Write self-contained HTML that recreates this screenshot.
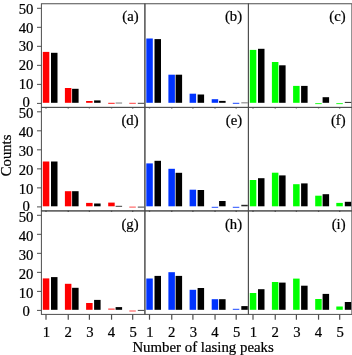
<!DOCTYPE html><html><head><meta charset="utf-8"><style>
html,body{margin:0;padding:0;background:#fff;}
svg{display:block;}
text{font-family:"Liberation Serif","Times New Roman",serif;font-size:14.7px;fill:#000;stroke:#000;stroke-width:0.22px;}
</style></head><body>
<svg width="352" height="355" viewBox="0 0 352 355">
<rect x="0" y="0" width="352" height="355" fill="#fff"/>
<rect x="42.80" y="51.90" width="6.50" height="50.90" fill="#ff0000"/>
<rect x="51.00" y="52.80" width="6.50" height="50.00" fill="#000"/>
<rect x="64.90" y="88.00" width="6.50" height="14.80" fill="#ff0000"/>
<rect x="72.10" y="88.80" width="6.50" height="14.00" fill="#000"/>
<rect x="86.10" y="101.00" width="6.50" height="1.80" fill="#ff0000"/>
<rect x="94.10" y="100.40" width="6.50" height="2.40" fill="#000"/>
<rect x="108.20" y="102.80" width="6.50" height="1.00" fill="#ff0000" fill-opacity="0.90"/>
<rect x="115.60" y="102.30" width="6.50" height="1.50" fill="#000" fill-opacity="0.35"/>
<rect x="129.30" y="102.80" width="6.50" height="1.00" fill="#ff0000" fill-opacity="0.75"/>
<rect x="137.80" y="102.80" width="6.50" height="1.00" fill="#000" fill-opacity="0.75"/>
<rect x="146.30" y="38.50" width="6.50" height="64.30" fill="#0033ff"/>
<rect x="154.50" y="39.10" width="6.50" height="63.70" fill="#000"/>
<rect x="168.40" y="74.70" width="6.50" height="28.10" fill="#0033ff"/>
<rect x="175.60" y="74.70" width="6.50" height="28.10" fill="#000"/>
<rect x="189.60" y="93.70" width="6.50" height="9.10" fill="#0033ff"/>
<rect x="197.60" y="94.50" width="6.50" height="8.30" fill="#000"/>
<rect x="211.70" y="99.20" width="6.50" height="3.60" fill="#0033ff"/>
<rect x="219.10" y="100.90" width="6.50" height="1.90" fill="#000"/>
<rect x="232.80" y="102.80" width="6.50" height="1.00" fill="#0033ff" fill-opacity="0.90"/>
<rect x="241.30" y="102.00" width="6.50" height="1.50" fill="#000" fill-opacity="0.35"/>
<rect x="249.80" y="49.90" width="6.50" height="52.90" fill="#00ff00"/>
<rect x="258.00" y="48.80" width="6.50" height="54.00" fill="#000"/>
<rect x="271.90" y="62.00" width="6.50" height="40.80" fill="#00ff00"/>
<rect x="279.10" y="65.30" width="6.50" height="37.50" fill="#000"/>
<rect x="293.10" y="85.90" width="6.50" height="16.90" fill="#00ff00"/>
<rect x="301.10" y="85.90" width="6.50" height="16.90" fill="#000"/>
<rect x="315.20" y="103.10" width="6.50" height="1.00" fill="#00ff00" fill-opacity="0.85"/>
<rect x="322.60" y="97.20" width="6.50" height="5.60" fill="#000"/>
<rect x="336.30" y="103.10" width="6.50" height="1.00" fill="#00ff00" fill-opacity="0.85"/>
<rect x="344.80" y="101.90" width="6.50" height="1.00" fill="#000" fill-opacity="0.85"/>
<rect x="42.80" y="161.50" width="6.50" height="44.80" fill="#ff0000"/>
<rect x="51.00" y="161.50" width="6.50" height="44.80" fill="#000"/>
<rect x="64.90" y="191.20" width="6.50" height="15.10" fill="#ff0000"/>
<rect x="72.10" y="191.20" width="6.50" height="15.10" fill="#000"/>
<rect x="86.10" y="202.90" width="6.50" height="3.40" fill="#ff0000"/>
<rect x="94.10" y="203.50" width="6.50" height="2.80" fill="#000"/>
<rect x="108.20" y="202.60" width="6.50" height="3.70" fill="#ff0000"/>
<rect x="115.60" y="205.80" width="6.50" height="1.00" fill="#000" fill-opacity="0.75"/>
<rect x="129.30" y="206.60" width="6.50" height="1.00" fill="#ff0000" fill-opacity="0.70"/>
<rect x="137.80" y="206.60" width="6.50" height="1.00" fill="#000" fill-opacity="0.75"/>
<rect x="146.30" y="163.40" width="6.50" height="42.90" fill="#0033ff"/>
<rect x="154.50" y="160.80" width="6.50" height="45.50" fill="#000"/>
<rect x="168.40" y="168.80" width="6.50" height="37.50" fill="#0033ff"/>
<rect x="175.60" y="172.80" width="6.50" height="33.50" fill="#000"/>
<rect x="189.60" y="189.70" width="6.50" height="16.60" fill="#0033ff"/>
<rect x="197.60" y="190.00" width="6.50" height="16.30" fill="#000"/>
<rect x="211.70" y="206.80" width="6.50" height="1.00" fill="#0033ff" fill-opacity="0.85"/>
<rect x="219.10" y="201.00" width="6.50" height="5.30" fill="#000"/>
<rect x="232.80" y="206.80" width="6.50" height="1.00" fill="#0033ff" fill-opacity="0.85"/>
<rect x="241.30" y="204.80" width="6.50" height="1.50" fill="#000" fill-opacity="0.85"/>
<rect x="249.80" y="180.00" width="6.50" height="26.30" fill="#00ff00"/>
<rect x="258.00" y="178.20" width="6.50" height="28.10" fill="#000"/>
<rect x="271.90" y="172.70" width="6.50" height="33.60" fill="#00ff00"/>
<rect x="279.10" y="175.40" width="6.50" height="30.90" fill="#000"/>
<rect x="293.10" y="184.20" width="6.50" height="22.10" fill="#00ff00"/>
<rect x="301.10" y="183.40" width="6.50" height="22.90" fill="#000"/>
<rect x="315.20" y="195.70" width="6.50" height="10.60" fill="#00ff00"/>
<rect x="322.60" y="194.20" width="6.50" height="12.10" fill="#000"/>
<rect x="336.30" y="202.90" width="6.50" height="3.40" fill="#00ff00"/>
<rect x="344.80" y="201.80" width="6.50" height="4.50" fill="#000"/>
<rect x="42.80" y="278.40" width="6.50" height="31.40" fill="#ff0000"/>
<rect x="51.00" y="277.10" width="6.50" height="32.70" fill="#000"/>
<rect x="64.90" y="283.80" width="6.50" height="26.00" fill="#ff0000"/>
<rect x="72.10" y="287.80" width="6.50" height="22.00" fill="#000"/>
<rect x="86.10" y="303.00" width="6.50" height="6.80" fill="#ff0000"/>
<rect x="94.10" y="299.90" width="6.50" height="9.90" fill="#000"/>
<rect x="108.20" y="308.60" width="6.50" height="1.00" fill="#ff0000" fill-opacity="0.90"/>
<rect x="115.60" y="307.10" width="6.50" height="2.70" fill="#000"/>
<rect x="129.30" y="310.40" width="6.50" height="1.20" fill="#ff0000" fill-opacity="0.60"/>
<rect x="137.80" y="309.90" width="6.50" height="1.00" fill="#000" fill-opacity="0.75"/>
<rect x="146.30" y="278.50" width="6.50" height="31.30" fill="#0033ff"/>
<rect x="154.50" y="275.90" width="6.50" height="33.90" fill="#000"/>
<rect x="168.40" y="272.20" width="6.50" height="37.60" fill="#0033ff"/>
<rect x="175.60" y="275.90" width="6.50" height="33.90" fill="#000"/>
<rect x="189.60" y="289.80" width="6.50" height="20.00" fill="#0033ff"/>
<rect x="197.60" y="288.00" width="6.50" height="21.80" fill="#000"/>
<rect x="211.70" y="299.20" width="6.50" height="10.60" fill="#0033ff"/>
<rect x="219.10" y="299.20" width="6.50" height="10.60" fill="#000"/>
<rect x="232.80" y="308.80" width="6.50" height="1.00" fill="#0033ff" fill-opacity="0.90"/>
<rect x="241.30" y="306.10" width="6.50" height="3.70" fill="#000"/>
<rect x="249.80" y="293.00" width="6.50" height="16.80" fill="#00ff00"/>
<rect x="258.00" y="289.20" width="6.50" height="20.60" fill="#000"/>
<rect x="271.90" y="282.00" width="6.50" height="27.80" fill="#00ff00"/>
<rect x="279.10" y="282.60" width="6.50" height="27.20" fill="#000"/>
<rect x="293.10" y="278.60" width="6.50" height="31.20" fill="#00ff00"/>
<rect x="301.10" y="285.70" width="6.50" height="24.10" fill="#000"/>
<rect x="315.20" y="299.00" width="6.50" height="10.80" fill="#00ff00"/>
<rect x="322.60" y="293.90" width="6.50" height="15.90" fill="#000"/>
<rect x="336.30" y="306.50" width="6.50" height="3.30" fill="#00ff00"/>
<rect x="344.80" y="302.00" width="6.50" height="7.80" fill="#000"/>
<rect x="41.40" y="3.75" width="103.50" height="103.65" fill="none" stroke="#4e4e4e" stroke-width="1"/>
<line x1="46.00" y1="107.10" x2="46.00" y2="108.40" stroke="#4e4e4e" stroke-width="1.3"/>
<line x1="68.25" y1="107.10" x2="68.25" y2="108.40" stroke="#4e4e4e" stroke-width="1.3"/>
<line x1="89.40" y1="107.10" x2="89.40" y2="108.40" stroke="#4e4e4e" stroke-width="1.3"/>
<line x1="111.55" y1="107.10" x2="111.55" y2="108.40" stroke="#4e4e4e" stroke-width="1.3"/>
<line x1="132.70" y1="107.10" x2="132.70" y2="108.40" stroke="#4e4e4e" stroke-width="1.3"/>
<rect x="144.90" y="3.75" width="103.50" height="103.65" fill="none" stroke="#4e4e4e" stroke-width="1"/>
<line x1="149.50" y1="107.10" x2="149.50" y2="108.40" stroke="#4e4e4e" stroke-width="1.3"/>
<line x1="171.75" y1="107.10" x2="171.75" y2="108.40" stroke="#4e4e4e" stroke-width="1.3"/>
<line x1="192.90" y1="107.10" x2="192.90" y2="108.40" stroke="#4e4e4e" stroke-width="1.3"/>
<line x1="215.05" y1="107.10" x2="215.05" y2="108.40" stroke="#4e4e4e" stroke-width="1.3"/>
<line x1="236.20" y1="107.10" x2="236.20" y2="108.40" stroke="#4e4e4e" stroke-width="1.3"/>
<rect x="248.40" y="3.75" width="103.50" height="103.65" fill="none" stroke="#4e4e4e" stroke-width="1"/>
<line x1="253.00" y1="107.10" x2="253.00" y2="108.40" stroke="#4e4e4e" stroke-width="1.3"/>
<line x1="275.25" y1="107.10" x2="275.25" y2="108.40" stroke="#4e4e4e" stroke-width="1.3"/>
<line x1="296.40" y1="107.10" x2="296.40" y2="108.40" stroke="#4e4e4e" stroke-width="1.3"/>
<line x1="318.55" y1="107.10" x2="318.55" y2="108.40" stroke="#4e4e4e" stroke-width="1.3"/>
<line x1="339.70" y1="107.10" x2="339.70" y2="108.40" stroke="#4e4e4e" stroke-width="1.3"/>
<line x1="37" y1="103.40" x2="41.40" y2="103.40" stroke="#4e4e4e" stroke-width="1"/>
<line x1="37" y1="84.38" x2="41.40" y2="84.38" stroke="#4e4e4e" stroke-width="1"/>
<line x1="37" y1="65.36" x2="41.40" y2="65.36" stroke="#4e4e4e" stroke-width="1"/>
<line x1="37" y1="46.34" x2="41.40" y2="46.34" stroke="#4e4e4e" stroke-width="1"/>
<line x1="37" y1="27.32" x2="41.40" y2="27.32" stroke="#4e4e4e" stroke-width="1"/>
<line x1="37" y1="8.30" x2="41.40" y2="8.30" stroke="#4e4e4e" stroke-width="1"/>
<text x="26.05" y="107.05" text-anchor="middle">0</text>
<text x="26.05" y="89.15" text-anchor="middle">10</text>
<text x="26.05" y="70.35" text-anchor="middle">20</text>
<text x="26.05" y="51.15" text-anchor="middle">30</text>
<text x="26.05" y="32.75" text-anchor="middle">40</text>
<text x="26.05" y="13.65" text-anchor="middle">50</text>
<rect x="41.40" y="107.40" width="103.50" height="103.50" fill="none" stroke="#4e4e4e" stroke-width="1"/>
<line x1="46.00" y1="210.60" x2="46.00" y2="211.90" stroke="#4e4e4e" stroke-width="1.3"/>
<line x1="68.25" y1="210.60" x2="68.25" y2="211.90" stroke="#4e4e4e" stroke-width="1.3"/>
<line x1="89.40" y1="210.60" x2="89.40" y2="211.90" stroke="#4e4e4e" stroke-width="1.3"/>
<line x1="111.55" y1="210.60" x2="111.55" y2="211.90" stroke="#4e4e4e" stroke-width="1.3"/>
<line x1="132.70" y1="210.60" x2="132.70" y2="211.90" stroke="#4e4e4e" stroke-width="1.3"/>
<rect x="144.90" y="107.40" width="103.50" height="103.50" fill="none" stroke="#4e4e4e" stroke-width="1"/>
<line x1="149.50" y1="210.60" x2="149.50" y2="211.90" stroke="#4e4e4e" stroke-width="1.3"/>
<line x1="171.75" y1="210.60" x2="171.75" y2="211.90" stroke="#4e4e4e" stroke-width="1.3"/>
<line x1="192.90" y1="210.60" x2="192.90" y2="211.90" stroke="#4e4e4e" stroke-width="1.3"/>
<line x1="215.05" y1="210.60" x2="215.05" y2="211.90" stroke="#4e4e4e" stroke-width="1.3"/>
<line x1="236.20" y1="210.60" x2="236.20" y2="211.90" stroke="#4e4e4e" stroke-width="1.3"/>
<rect x="248.40" y="107.40" width="103.50" height="103.50" fill="none" stroke="#4e4e4e" stroke-width="1"/>
<line x1="253.00" y1="210.60" x2="253.00" y2="211.90" stroke="#4e4e4e" stroke-width="1.3"/>
<line x1="275.25" y1="210.60" x2="275.25" y2="211.90" stroke="#4e4e4e" stroke-width="1.3"/>
<line x1="296.40" y1="210.60" x2="296.40" y2="211.90" stroke="#4e4e4e" stroke-width="1.3"/>
<line x1="318.55" y1="210.60" x2="318.55" y2="211.90" stroke="#4e4e4e" stroke-width="1.3"/>
<line x1="339.70" y1="210.60" x2="339.70" y2="211.90" stroke="#4e4e4e" stroke-width="1.3"/>
<line x1="37" y1="206.90" x2="41.40" y2="206.90" stroke="#4e4e4e" stroke-width="1"/>
<line x1="37" y1="187.88" x2="41.40" y2="187.88" stroke="#4e4e4e" stroke-width="1"/>
<line x1="37" y1="168.86" x2="41.40" y2="168.86" stroke="#4e4e4e" stroke-width="1"/>
<line x1="37" y1="149.84" x2="41.40" y2="149.84" stroke="#4e4e4e" stroke-width="1"/>
<line x1="37" y1="130.82" x2="41.40" y2="130.82" stroke="#4e4e4e" stroke-width="1"/>
<line x1="37" y1="111.80" x2="41.40" y2="111.80" stroke="#4e4e4e" stroke-width="1"/>
<text x="26.05" y="211.40" text-anchor="middle">0</text>
<text x="26.05" y="193.50" text-anchor="middle">10</text>
<text x="26.05" y="174.70" text-anchor="middle">20</text>
<text x="26.05" y="155.50" text-anchor="middle">30</text>
<text x="26.05" y="137.10" text-anchor="middle">40</text>
<text x="26.05" y="118.00" text-anchor="middle">50</text>
<rect x="41.40" y="210.90" width="103.50" height="103.50" fill="none" stroke="#4e4e4e" stroke-width="1"/>
<line x1="46.00" y1="314.40" x2="46.00" y2="319.70" stroke="#4e4e4e" stroke-width="1.2"/>
<line x1="68.25" y1="314.40" x2="68.25" y2="319.70" stroke="#4e4e4e" stroke-width="1.2"/>
<line x1="89.40" y1="314.40" x2="89.40" y2="319.70" stroke="#4e4e4e" stroke-width="1.2"/>
<line x1="111.55" y1="314.40" x2="111.55" y2="319.70" stroke="#4e4e4e" stroke-width="1.2"/>
<line x1="132.70" y1="314.40" x2="132.70" y2="319.70" stroke="#4e4e4e" stroke-width="1.2"/>
<rect x="144.90" y="210.90" width="103.50" height="103.50" fill="none" stroke="#4e4e4e" stroke-width="1"/>
<line x1="149.50" y1="314.40" x2="149.50" y2="319.70" stroke="#4e4e4e" stroke-width="1.2"/>
<line x1="171.75" y1="314.40" x2="171.75" y2="319.70" stroke="#4e4e4e" stroke-width="1.2"/>
<line x1="192.90" y1="314.40" x2="192.90" y2="319.70" stroke="#4e4e4e" stroke-width="1.2"/>
<line x1="215.05" y1="314.40" x2="215.05" y2="319.70" stroke="#4e4e4e" stroke-width="1.2"/>
<line x1="236.20" y1="314.40" x2="236.20" y2="319.70" stroke="#4e4e4e" stroke-width="1.2"/>
<rect x="248.40" y="210.90" width="103.50" height="103.50" fill="none" stroke="#4e4e4e" stroke-width="1"/>
<line x1="253.00" y1="314.40" x2="253.00" y2="319.70" stroke="#4e4e4e" stroke-width="1.2"/>
<line x1="275.25" y1="314.40" x2="275.25" y2="319.70" stroke="#4e4e4e" stroke-width="1.2"/>
<line x1="296.40" y1="314.40" x2="296.40" y2="319.70" stroke="#4e4e4e" stroke-width="1.2"/>
<line x1="318.55" y1="314.40" x2="318.55" y2="319.70" stroke="#4e4e4e" stroke-width="1.2"/>
<line x1="339.70" y1="314.40" x2="339.70" y2="319.70" stroke="#4e4e4e" stroke-width="1.2"/>
<line x1="37" y1="310.40" x2="41.40" y2="310.40" stroke="#4e4e4e" stroke-width="1"/>
<line x1="37" y1="291.38" x2="41.40" y2="291.38" stroke="#4e4e4e" stroke-width="1"/>
<line x1="37" y1="272.36" x2="41.40" y2="272.36" stroke="#4e4e4e" stroke-width="1"/>
<line x1="37" y1="253.34" x2="41.40" y2="253.34" stroke="#4e4e4e" stroke-width="1"/>
<line x1="37" y1="234.32" x2="41.40" y2="234.32" stroke="#4e4e4e" stroke-width="1"/>
<line x1="37" y1="215.30" x2="41.40" y2="215.30" stroke="#4e4e4e" stroke-width="1"/>
<text x="26.05" y="315.65" text-anchor="middle">0</text>
<text x="26.05" y="297.75" text-anchor="middle">10</text>
<text x="26.05" y="278.95" text-anchor="middle">20</text>
<text x="26.05" y="259.75" text-anchor="middle">30</text>
<text x="26.05" y="241.35" text-anchor="middle">40</text>
<text x="26.05" y="222.25" text-anchor="middle">50</text>
<text x="138.60" y="20.70" text-anchor="end">(a)</text>
<text x="242.10" y="20.70" text-anchor="end">(b)</text>
<text x="345.60" y="20.70" text-anchor="end">(c)</text>
<text x="138.60" y="125.00" text-anchor="end">(d)</text>
<text x="242.10" y="125.00" text-anchor="end">(e)</text>
<text x="345.60" y="125.00" text-anchor="end">(f)</text>
<text x="138.60" y="229.30" text-anchor="end">(g)</text>
<text x="242.10" y="229.30" text-anchor="end">(h)</text>
<text x="345.60" y="229.30" text-anchor="end">(i)</text>
<text x="46.40" y="337" text-anchor="middle">1</text>
<text x="68.10" y="337" text-anchor="middle">2</text>
<text x="89.80" y="337" text-anchor="middle">3</text>
<text x="111.50" y="337" text-anchor="middle">4</text>
<text x="133.20" y="337" text-anchor="middle">5</text>
<text x="149.90" y="337" text-anchor="middle">1</text>
<text x="171.60" y="337" text-anchor="middle">2</text>
<text x="193.30" y="337" text-anchor="middle">3</text>
<text x="215.00" y="337" text-anchor="middle">4</text>
<text x="236.70" y="337" text-anchor="middle">5</text>
<text x="253.40" y="337" text-anchor="middle">1</text>
<text x="275.10" y="337" text-anchor="middle">2</text>
<text x="296.80" y="337" text-anchor="middle">3</text>
<text x="318.50" y="337" text-anchor="middle">4</text>
<text x="340.20" y="337" text-anchor="middle">5</text>
<text x="203.1" y="351.6" text-anchor="middle" style="font-size:14.85px">Number of lasing peaks</text>
<text transform="translate(11.1,155.4) rotate(-90)" x="0" y="0" text-anchor="middle">Counts</text>
</svg></body></html>
